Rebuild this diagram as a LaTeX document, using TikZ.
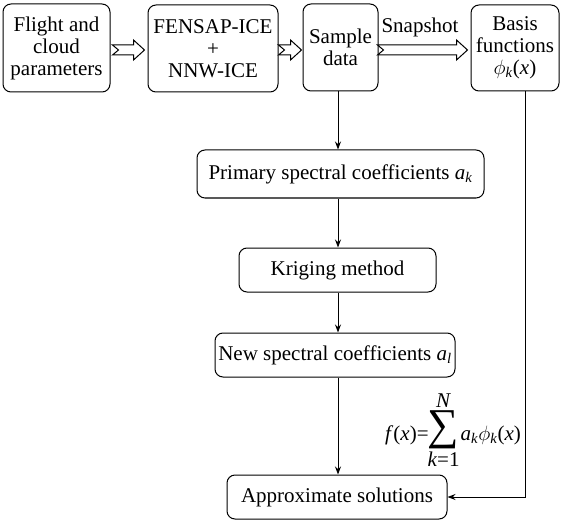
\documentclass[tikz,border=0pt]{standalone}
\usepackage{fontspec}
\setmainfont{Liberation Serif}
\usetikzlibrary{arrows.meta,calc}
\tikzset{
  box/.style={draw, rounded corners=8pt, line width=1pt, align=center, inner sep=0pt},
  hol/.style={draw, line width=1pt, fill=white, line join=miter},
  conn/.style={line width=1pt, -{Stealth[length=8pt,width=6pt]}},
}
\newcommand\hollowarr[4]{%
  \draw[hol] let \p1=(#1.east), \p2=(#2.west), \p3=(0,50) in
    (\x1+#3, \y3+5pt) -- (\x2-#4-11pt, \y3+5pt) -- (\x2-#4-11pt, \y3+10pt) --
    (\x2-#4, \y3) -- (\x2-#4-11pt, \y3-10pt) -- (\x2-#4-11pt, \y3-5pt) --
    (\x1+#3, \y3-5pt) -- (\x1+#3+6pt, \y3) -- cycle;}
\newcommand\bigsum{{\fontsize{44}{44}\selectfont ∑}}
\begin{document}
\begin{tikzpicture}[x=1pt,y=-1pt, every node/.style={font=\fontsize{21}{22}\selectfont}]
\useasboundingbox (0,0) rectangle (561,521);
\node[box, minimum width=107pt, minimum height=88pt] (flight) at (56.5,48) {Flight and\\cloud\\parameters};
\node[box, minimum width=130pt, minimum height=87pt] (fensap) at (213,48.5) {FENSAP-ICE\\+\\NNW-ICE};
\node[box, minimum width=75pt, minimum height=87pt] (sample) at (340.5,47.5) {Sample\\data};
\node[box, minimum width=88pt, minimum height=86pt] (basis) at (515,48) {Basis\\functions\\$\phi$\textsubscript{\textit{k}}(\textit{x})};
\node[box, minimum width=287pt, minimum height=48pt] (primary) at (340.5,174) {Primary spectral coefficients \textit{a}\textsubscript{\textit{k}}};
\node[box, minimum width=197pt, minimum height=44pt] (kriging) at (337.5,270) {Kriging method};
\node[box, minimum width=240pt, minimum height=44pt] (newc) at (335,355) {New spectral coefficients \textit{a}\textsubscript{\textit{l}}};
\node[box, minimum width=220pt, minimum height=44pt] (approx) at (337,497) {Approximate solutions};
\node (snap) at (420,27) {Snapshot};
\node[inner sep=0pt, anchor=base west] (fx) at (385,440) {\textit{f}(\textit{x})=\kern-1pt\raisebox{-26pt}{\shortstack[c]{\textit{N}\\\bigsum\\\textit{k}=1}}\kern1pt\textit{a}\textsubscript{\textit{k}}$\phi$\textsubscript{\textit{k}}(\textit{x})};
\coordinate (colx) at (338,0);
\coordinate (rx) at (525,0);
\hollowarr{flight}{fensap}{2pt}{3pt}
\hollowarr{fensap}{sample}{0pt}{1pt}
\hollowarr{sample}{basis}{-1pt}{3pt}
\draw[conn] (sample.south -| colx) -- (primary.north -| colx);
\draw[conn] (primary.south -| colx) -- (kriging.north -| colx);
\draw[conn] (kriging.south -| colx) -- (newc.north -| colx);
\draw[conn] (newc.south -| colx) -- (approx.north -| colx);
\draw[conn] (basis.south -| rx) |- (approx.east);
\end{tikzpicture}
\end{document}
